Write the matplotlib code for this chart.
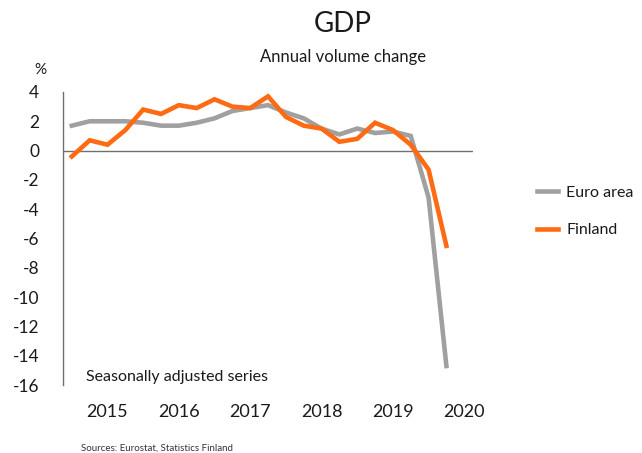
import numpy as np
import matplotlib.pyplot as plt

plt.rcParams['font.family'] = ['Lato', 'DejaVu Sans']

# quarterly data 2015Q1 - 2020Q2
euro_area = [1.7, 2.0, 2.0, 2.0, 1.9, 1.7, 1.7, 1.9, 2.2, 2.7, 2.9,
             3.1, 2.6, 2.2, 1.5, 1.1, 1.5, 1.2, 1.3, 1.0, -3.2, -14.7]
finland = [-0.4, 0.7, 0.4, 1.4, 2.8, 2.5, 3.1, 2.9, 3.5, 3.0, 2.9,
           3.7, 2.3, 1.7, 1.5, 0.6, 0.8, 1.9, 1.4, 0.4, -1.3, -6.5]
years = ['2015', '2016', '2017', '2018', '2019', '2020']
y_ticks = [4, 2, 0, -2, -4, -6, -8, -10, -12, -14, -16]

grey = '#a0a0a0'
orange = '#ff6a13'
txt = '#1a1a1a'

fig = plt.figure(figsize=(6.42, 4.53), dpi=100)
ax = fig.add_axes([0.098, 0.150, 0.639, 0.647])

x = np.arange(len(euro_area))
ax.plot(x, euro_area, color=grey, lw=3.3, label='Euro area', solid_joinstyle='miter')
ax.plot(x, finland, color=orange, lw=3.3, label='Finland', solid_joinstyle='miter')
ax.axhline(0, color='#707070', lw=1.0, zorder=0)

ax.set_xlim(-0.5, 22.5)
ax.set_ylim(-16, 4)
ax.set_yticks(y_ticks)
ax.set_yticklabels([str(v) for v in y_ticks])
ax.set_xticks([2 + 4 * i for i in range(len(years))])
ax.set_xticklabels(years)
ax.tick_params(axis='y', length=0, pad=17, labelsize=12.5, colors=txt)
ax.tick_params(axis='x', length=0, pad=14, labelsize=13, colors=txt)

for s in ['top', 'right', 'bottom']:
    ax.spines[s].set_visible(False)
ax.spines['left'].set_color('#707070')
ax.spines['left'].set_linewidth(1.0)

fig.text(0.534, 0.948, 'GDP', ha='center', va='center', fontsize=20, color=txt)
fig.text(0.534, 0.874, 'Annual volume change', ha='center', va='center', fontsize=12, color=txt)
fig.text(0.063, 0.845, '%', ha='center', va='center', fontsize=11, color=txt)
fig.text(0.134, 0.168, 'Seasonally adjusted series', ha='left', va='center', fontsize=11.5, color=txt)
fig.text(0.126, 0.011, 'Sources: Eurostat, Statistics Finland', ha='left', va='center',
         fontsize=7, color='#333333')

fig.legend(loc='center left', bbox_to_anchor=(0.837, 0.533), frameon=False,
           fontsize=11.5, handlelength=1.3, handletextpad=0.5, labelspacing=1.45,
           borderaxespad=0, borderpad=0, labelcolor=txt)

fig.savefig('out.png', dpi=100)
